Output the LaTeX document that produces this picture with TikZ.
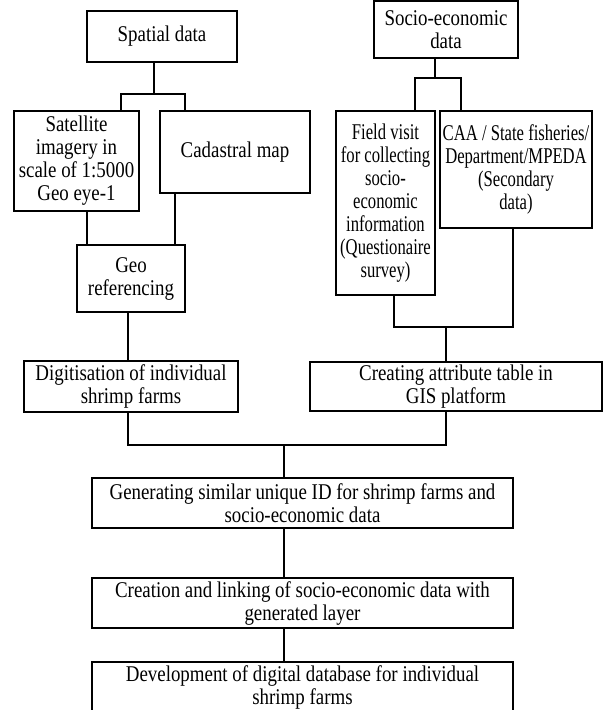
\documentclass[tikz,border=0pt]{standalone}
\usepackage{fontspec}
\setmainfont[FakeStretch=0.84]{Liberation Serif}
\newfontfamily\narrowserif[FakeStretch=0.74]{Liberation Serif}
\usepackage{tikz}

\begin{document}
\begin{tikzpicture}[x=1pt,y=-1pt]
        % Redefine some styles
        \tikzstyle{block} = [rectangle,draw=black,line width=1.6pt,inner sep=0pt,
        align=center, font=\fontsize{22.5}{23}\selectfont]
        \tikzstyle{wire} = [draw=black,line width=1.6pt]

        \useasboundingbox (0,0) rectangle (604,710);

        % Nodes
        \node (spatial) [block, minimum width=150pt, minimum height=51pt] at (162,36.5)  {Spatial data};
        \node (socio)   [block, minimum width=144pt, minimum height=57pt] at (446,29.5)  {Socio-economic\\data};
        \node (sat)     [block, minimum width=125pt, minimum height=100pt] at (76.5,161) {Satellite\\imagery in\\scale of 1:5000\\Geo eye-1};
        \node (cad)     [block, minimum width=150pt, minimum height=82pt] at (235,152)   {Cadastral map};
        \node (field)   [block, minimum width=99pt, minimum height=184pt,
                         font=\narrowserif\fontsize{22.5}{23}\selectfont] at (385.5,203)
                        {Field visit\\for collecting\\socio-\\economic\\information\\(Questionaire\\survey)};
        \node (caa)     [block, minimum width=152pt, minimum height=117pt,
                         font=\narrowserif\fontsize{22.5}{23}\selectfont] at (516,169.5)
                        {CAA / State fisheries/\\Department/MPEDA\\(Secondary\\data)};
        \node (geo)     [block, minimum width=108pt, minimum height=67pt] at (131,278.5) {Geo\\referencing};
        \node (digit)   [block, minimum width=214pt, minimum height=51pt] at (131,386.5) {Digitisation of individual\\shrimp farms};
        \node (attr)    [block, minimum width=292pt, minimum height=49pt] at (456,386.5) {Creating attribute table in\\GIS platform};
        \node (gen)     [block, minimum width=421pt, minimum height=50pt] at (302.5,503) {Generating similar unique ID for shrimp farms and\\socio-economic data};
        \node (crea)    [block, minimum width=421pt, minimum height=50pt] at (302.5,603) {Creation and linking of socio-economic data with\\generated layer};
        \node (dev)     [block, minimum width=421pt, minimum height=50pt] at (302.5,687) {Development of digital database for individual\\shrimp farms};

        % Junctions
        \coordinate (spM) at (154,94);
        \coordinate (spL) at (121,94);
        \coordinate (spR) at (185,94);
        \coordinate (soM) at (435,78);
        \coordinate (soL) at (415,78);
        \coordinate (soR) at (461,78);
        \coordinate (geL) at (87,245);
        \coordinate (geR) at (175,245);
        \coordinate (faL) at (394,327);
        \coordinate (faM) at (446,327);
        \coordinate (faR) at (513,327);
        \coordinate (daL) at (128,445);
        \coordinate (daM) at (284,445);
        \coordinate (daR) at (446,445);

        % Edges
        \draw[wire] (spatial.south -| spM) -- (spM);
        \draw[wire] (sat.north -| spL) -- (spL) -- (spR) -- (cad.north -| spR);
        \draw[wire] (socio.south -| soM) -- (soM);
        \draw[wire] (field.north -| soL) -- (soL) -- (soR) -- (caa.north -| soR);
        \draw[wire] (sat.south -| geL) -- (geo.north -| geL);
        \draw[wire] (cad.south -| geR) -- (geo.north -| geR);
        \draw[wire] (geo.south -| daL) -- (digit.north -| daL);
        \draw[wire] (field.south -| faL) -- (faL) -- (faR) -- (caa.south -| faR);
        \draw[wire] (faM) -- (attr.north -| faM);
        \draw[wire] (digit.south -| daL) -- (daL) -- (daR) -- (attr.south -| daR);
        \draw[wire] (daM) -- (gen.north -| daM);
        \draw[wire] (gen.south -| daM) -- (crea.north -| daM);
        \draw[wire] (crea.south -| daM) -- (dev.north -| daM);

\end{tikzpicture}
\end{document}
